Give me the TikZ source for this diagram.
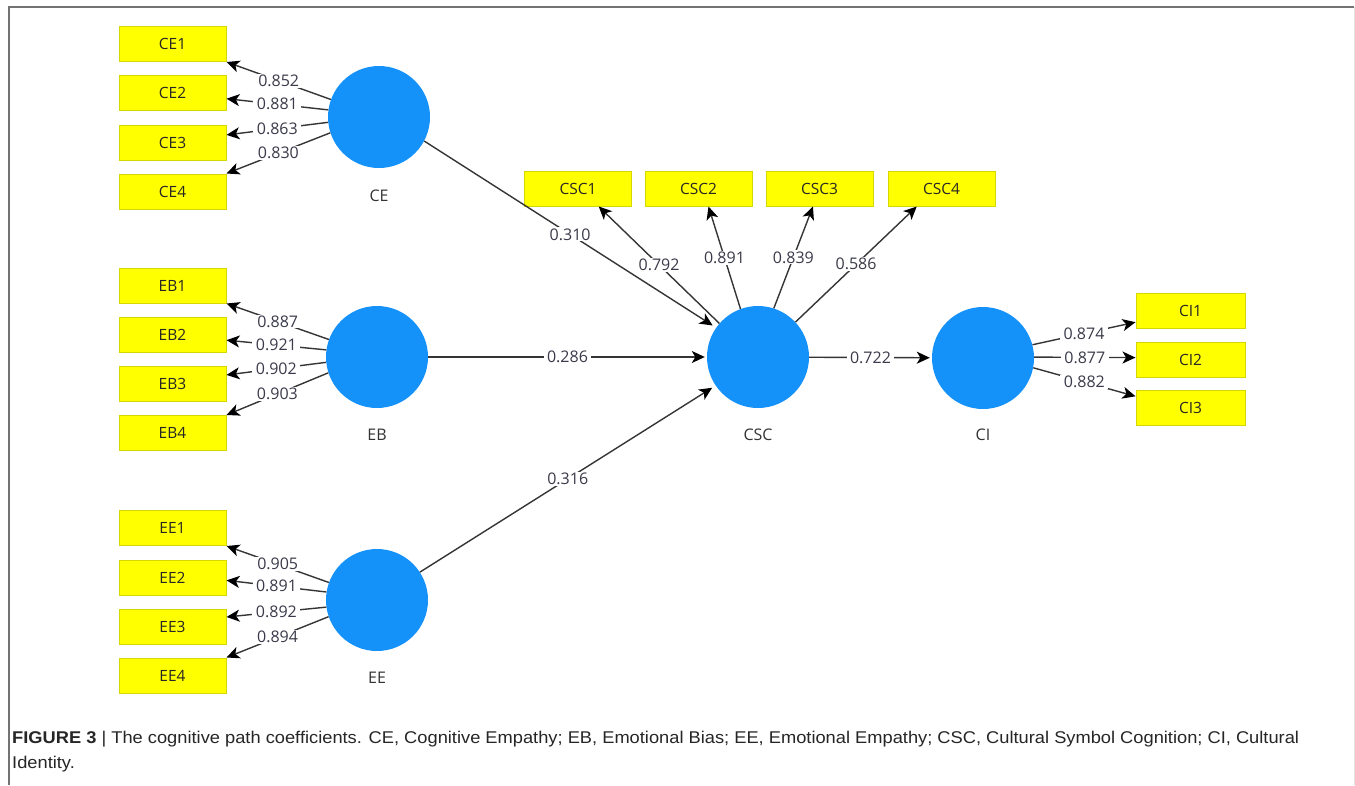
\documentclass[tikz,border=0pt]{standalone}
\usepackage{fontspec}
\setmainfont{Open Sans}
\newfontfamily\capfont[FakeStretch=1.075]{Liberation Sans}
\usetikzlibrary{arrows.meta}
\definecolor{boxfill}{HTML}{FFFF00}
\definecolor{boxline}{HTML}{D6D600}
\definecolor{lv}{HTML}{1591FA}
\definecolor{edge}{HTML}{353535}
\definecolor{numtxt}{HTML}{3A3A4A}
\begin{document}
\begin{tikzpicture}[x=1pt,y=-1pt,
 ind/.style={draw=boxline, fill=boxfill, line width=1pt, minimum width=107pt, minimum height=35pt, inner sep=0pt, font=\fontsize{15.5}{17}\selectfont, text=black!85},
 lat/.style={circle, fill=lv, minimum size=102pt, inner sep=0pt},
 latlab/.style={font=\fontsize{16}{18}\selectfont, text=black!80},
 pth/.style={draw=edge, line width=1.4pt, -{Stealth[length=13pt,width=12pt,inset=3.5pt,color=black]}},
 coef/.style={midway, fill=white, inner xsep=3.5pt, inner ysep=1pt, font=\fontsize{16}{18}\selectfont, text=numtxt}]
\useasboundingbox (0,0) rectangle (1355,785);
\fill[white] (0,0) rectangle (1355,785);
\draw[black!55, line width=1.2pt] (9,785) -- (9,7) -- (1354,7);
\draw[black!12, line width=1pt] (1354,7) -- (1354,785);

% latent variables
\node[lat] (CE) at (379,117) {};
\node[lat] (EB) at (377,357) {};
\node[lat] (EE) at (377,600) {};
\node[lat] (CSC) at (758,357) {};
\node[lat] (CI) at (983,358) {};
\node[latlab] (CElab) at (379,196) {CE};
\node[latlab] (EBlab) at (377,435) {EB};
\node[latlab] (EElab) at (377,678) {EE};
\node[latlab] (CSClab) at (758,435) {CSC};
\node[latlab] (CIlab) at (983,435) {CI};

% indicators
\node[ind] (CE1) at (172.5,44) {CE1};
\node[ind] (CE2) at (172.5,93) {CE2};
\node[ind] (CE3) at (172.5,142.5) {CE3};
\node[ind] (CE4) at (172.5,191.5) {CE4};
\node[ind] (EB1) at (172.5,285.5) {EB1};
\node[ind] (EB2) at (172.5,334.5) {EB2};
\node[ind] (EB3) at (172.5,383.5) {EB3};
\node[ind] (EB4) at (172.5,433) {EB4};
\node[ind] (EE1) at (172.5,528) {EE1};
\node[ind] (EE2) at (172.5,577.5) {EE2};
\node[ind] (EE3) at (172.5,626.5) {EE3};
\node[ind] (EE4) at (172.5,675.5) {EE4};
\node[ind] (CSC1) at (578,188.5) {CSC1};
\node[ind] (CSC2) at (698.5,188.5) {CSC2};
\node[ind] (CSC3) at (819.5,188.5) {CSC3};
\node[ind] (CSC4) at (941.5,188.5) {CSC4};
\node[ind, minimum width=109pt] (CI1) at (1190.5,310.5) {CI1};
\node[ind, minimum width=109pt] (CI2) at (1190.5,359.5) {CI2};
\node[ind, minimum width=109pt] (CI3) at (1190.5,408) {CI3};

% outer loadings
\draw[pth] (CE.160) -- node[coef]{0.852} (CE1.south east);
\draw[pth] (CE.172) -- node[coef]{0.881} (CE2.-6);
\draw[pth] (CE.186) -- node[coef]{0.863} (CE3.8);
\draw[pth] (CE.198) -- node[coef]{0.830} (CE4.north east);

\draw[pth] (EB.160) -- node[coef]{0.887} (EB1.south east);
\draw[pth] (EB.172) -- node[coef]{0.921} (EB2.-6);
\draw[pth] (EB.186) -- node[coef]{0.902} (EB3.9);
\draw[pth] (EB.198) -- node[coef]{0.903} (EB4.north east);

\draw[pth] (EE.160) -- node[coef]{0.905} (EE1.south east);
\draw[pth] (EE.171) -- node[coef]{0.891} (EE2.-3);
\draw[pth] (EE.188) -- node[coef]{0.892} (EE3.10);
\draw[pth] (EE.199) -- node[coef]{0.894} (EE4.north east);

\draw[pth] (CSC.139) -- node[coef]{0.792} (CSC1.-41);
\draw[pth] (CSC.110) -- node[coef]{0.891} (CSC2.-61);
\draw[pth] (CSC.72) -- node[coef]{0.839} (CSC3.-110);
\draw[pth] (CSC.43) -- node[coef]{0.586} (CSC4.-144);

\draw[pth] (CI.15) -- node[coef]{0.874} (CI1.192);
\draw[pth] (CI.1) -- node[coef]{0.877} (CI2.178);
\draw[pth] (CI.-11) -- node[coef]{0.882} (CI3.168);

% structural paths
\draw[pth, shorten >=4pt] (CE.-28) -- node[coef]{0.310} (CSC.145);
\draw[pth, shorten >=2pt] (EB) -- node[coef]{0.286} (CSC);
\draw[pth, shorten >=4pt] (EE.33) -- node[coef]{0.316} (CSC.-146);
\draw[pth, shorten >=2pt] (CSC) -- node[coef]{0.722} (CI);

% caption
\node[anchor=west, align=left, inner sep=0pt, font=\capfont\fontsize{17}{25}\selectfont, text=black!85] (cap) at (12,752)
 {\textbf{FIGURE 3} | The cognitive path coefficients. CE, Cognitive Empathy; EB, Emotional Bias; EE, Emotional Empathy; CSC, Cultural Symbol Cognition; CI, Cultural\\Identity.};
\end{tikzpicture}
\end{document}
